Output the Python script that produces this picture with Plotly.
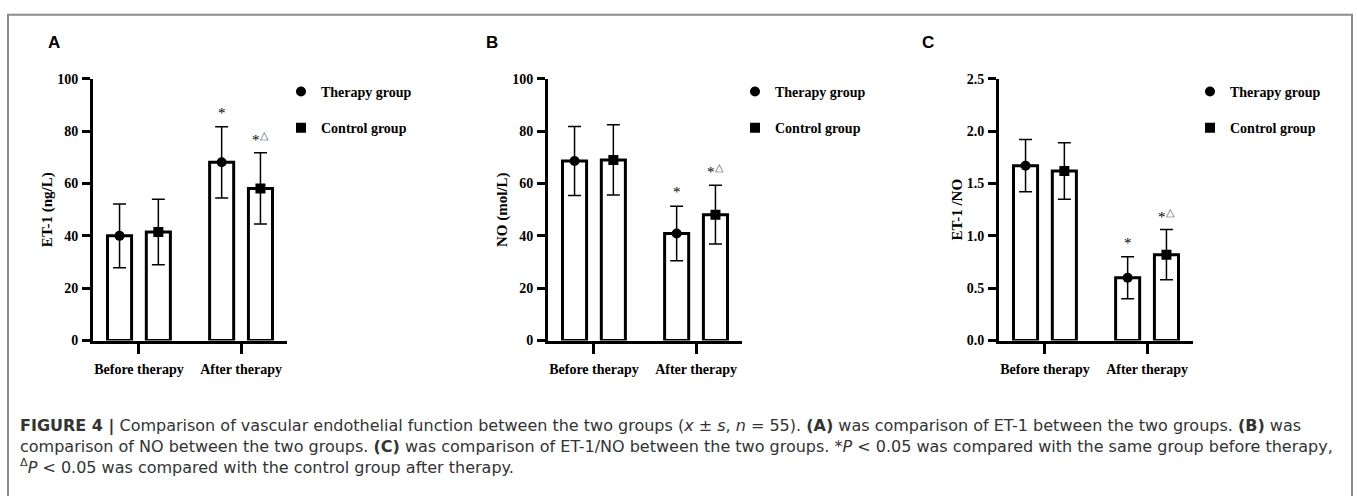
import plotly.graph_objects as go

W, H = 1357, 496

categories = ["Before therapy", "After therapy"]
group_names = ["Therapy group", "Control group"]

et1_therapy_mean = [40.0, 68.1]
et1_therapy_sd = [12.2, 13.6]
et1_control_mean = [41.5, 58.1]
et1_control_sd = [12.5, 13.6]

no_therapy_mean = [68.6, 40.9]
no_therapy_sd = [13.2, 10.4]
no_control_mean = [69.0, 48.1]
no_control_sd = [13.4, 11.2]

ratio_therapy_mean = [1.67, 0.60]
ratio_therapy_sd = [0.25, 0.20]
ratio_control_mean = [1.62, 0.82]
ratio_control_sd = [0.27, 0.24]

y_titles = ["ET-1 (ng/L)", "NO (mol/L)", "ET-1 /NO"]
y_tickvals = [[0, 20, 40, 60, 80, 100], [0, 20, 40, 60, 80, 100], [0.0, 0.5, 1.0, 1.5, 2.0, 2.5]]
y_ranges = [[0, 100], [0, 100], [0, 2.5]]
y_tickformats = ["d", "d", ".1f"]
panel_letters = ["A", "B", "C"]

panels = [
    (et1_therapy_mean, et1_therapy_sd, et1_control_mean, et1_control_sd),
    (no_therapy_mean, no_therapy_sd, no_control_mean, no_control_sd),
    (ratio_therapy_mean, ratio_therapy_sd, ratio_control_mean, ratio_control_sd),
]

# layout (pixels)
x_dom_px = [(93, 287), (548, 742), (999, 1193)]
y_dom_px = (74, 344)
letter_px = [(54, 37), (492, 37), (928, 37)]
legend_px = [281, 735, 1190]

SERIF = "Times New Roman, Liberation Serif, serif"
SANS = "Liberation Sans, Arial, sans-serif"
CAPTION = "DejaVu Sans, Liberation Sans, sans-serif"

fig = go.Figure()

for i, (tm, ts, cm, cs) in enumerate(panels):
    xa = "x" if i == 0 else f"x{i+1}"
    ya = "y" if i == 0 else f"y{i+1}"
    lg = "legend" if i == 0 else f"legend{i+1}"
    for mean, sd, og in [(tm, ts, "t"), (cm, cs, "c")]:
        fig.add_trace(go.Bar(
            x=categories, y=mean, offsetgroup=og, xaxis=xa, yaxis=ya,
            marker=dict(color="white", line=dict(color="black", width=3)),
            error_y=dict(type="data", array=sd, visible=True, color="black",
                         thickness=1.5, width=6.5),
            showlegend=False, hoverinfo="skip",
        ))
    for mean, og, sym, name in [(tm, "t", "circle", group_names[0]),
                                (cm, "c", "square", group_names[1])]:
        fig.add_trace(go.Scatter(
            x=categories, y=mean, mode="markers", offsetgroup=og, orientation="v",
            xaxis=xa, yaxis=ya, name=name, legend=lg, legendgroup=f"{i}{og}",
            marker=dict(symbol=sym, size=10, color="black"),
        ))

    # significance marks
    fig.add_annotation(x=categories[1], y=tm[1] + ts[1], xref=xa, yref=ya,
                       text="*", showarrow=False, xshift=-19.5, yshift=4,
                       yanchor="bottom", font=dict(family=SERIF, size=15, color="#000000"))
    fig.add_annotation(x=categories[1], y=cm[1] + cs[1], xref=xa, yref=ya,
                       text="*<sup><span style='color:#555555'>△</span></sup>",
                       showarrow=False, xshift=19.5, yshift=3,
                       yanchor="bottom", font=dict(family=SERIF, size=15, color="#000000"))

    x0, x1 = x_dom_px[i]
    fig.update_layout({
        ("xaxis" if i == 0 else f"xaxis{i+1}"): dict(
            domain=[x0 / W, x1 / W], anchor=ya, range=[-0.45, 1.45],
            showline=True, linecolor="black", linewidth=3, ticks="outside",
            ticklen=10, tickwidth=2.5, tickcolor="black", showgrid=False,
            zeroline=False, ticklabelstandoff=4,
            tickfont=dict(family=SERIF, size=14, color="black", weight="bold"),
        ),
        ("yaxis" if i == 0 else f"yaxis{i+1}"): dict(
            domain=[1 - y_dom_px[1] / H, 1 - y_dom_px[0] / H], anchor=xa,
            range=y_ranges[i], tickvals=y_tickvals[i], tickformat=y_tickformats[i],
            showline=True, linecolor="black", linewidth=3, ticks="outside",
            ticklen=8, tickwidth=2.5, tickcolor="black", showgrid=False,
            zeroline=False, ticklabelstandoff=1,
            tickfont=dict(family=SERIF, size=14, color="black", weight="bold"),
            title=dict(text=y_titles[i], standoff=1,
                       font=dict(family=SERIF, size=15, color="black", weight="bold")),
        ),
        lg: dict(x=legend_px[i] / W, xanchor="left", y=1 - 71 / H, yanchor="top",
                 bgcolor="rgba(0,0,0,0)", tracegroupgap=15,
                 font=dict(family=SERIF, size=14, color="black", weight="bold")),
    })
    lx, ly = letter_px[i]
    fig.add_annotation(x=lx / W, y=1 - ly / H, xref="paper", yref="paper",
                       text=f"<b>{panel_letters[i]}</b>", showarrow=False,
                       xanchor="center", yanchor="middle",
                       font=dict(family=SANS, size=17, color="black"))

caption_lines = [
    "<b>FIGURE 4 |</b> Comparison of vascular endothelial function between the two groups (<i>x</i> ± <i>s</i>, <i>n</i> = 55). <b>(A)</b> was comparison of ET-1 between the two groups. <b>(B)</b> was",
    "comparison of NO between the two groups. <b>(C)</b> was comparison of ET-1/NO between the two groups. *<i>P</i> &lt; 0.05 was compared with the same group before therapy,",
    "<sup>Δ</sup><i>P</i> &lt; 0.05 was compared with the control group after therapy.",
]
caption_y_px = [432, 453, 474]
for line, cy in zip(caption_lines, caption_y_px):
    fig.add_annotation(x=18 / W, y=1 - cy / H, xref="paper", yref="paper",
                       text=line, showarrow=False, xanchor="left", yanchor="middle",
                       align="left", font=dict(family=CAPTION, size=16, color="#333333"))

fig.add_shape(type="rect", xref="paper", yref="paper",
              x0=8 / W, x1=1352 / W, y0=-0.1, y1=1 - 8 / H,
              line=dict(color="#8c8c8c", width=2), fillcolor="rgba(0,0,0,0)")

fig.update_layout(
    width=W, height=H, margin=dict(l=0, r=0, t=0, b=0),
    paper_bgcolor="white", plot_bgcolor="white",
    barmode="group", bargap=0.24, bargroupgap=0.38,
    scattermode="group", scattergap=0.24,
    showlegend=True,
)

fig.write_html("out.html")
